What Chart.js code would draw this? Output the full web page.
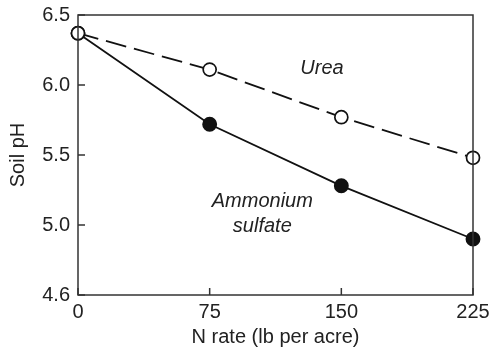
<!DOCTYPE html>
<html><head><meta charset="utf-8">
<script src="https://cdn.jsdelivr.net/npm/chart.js@4/dist/chart.umd.min.js"></script>
<style>html,body{margin:0;padding:0;background:#fff}#wrap{width:492px;height:353px}</style>
</head><body><div id="wrap"><canvas id="c" width="492" height="353"></canvas></div>
<script>
const nRates = [0, 75, 150, 225];
const urea = [6.37, 6.11, 5.77, 5.48];
const ammoniumSulfate = [6.37, 5.72, 5.28, 4.90];
const yTickValues = [4.5, 5.0, 5.5, 6.0, 6.5];
const yTickLabels = ['4.6', '5.0', '5.5', '6.0', '6.5'];
const xTickLabels = ['0', '75', '150', '225'];
const seriesLabels = [
  {text: 'Urea', x: 139, y: 6.12},
  {text: 'Ammonium', x: 105, y: 5.17},
  {text: 'sulfate', x: 105, y: 4.99}
];

const FONT = "'Liberation Sans', Arial, sans-serif";
const AXIS_COLOR = '#333';

const frame = {
  id: 'frame',
  afterDraw(chart) {
    const {ctx, chartArea: a, scales: {x, y}} = chart;
    ctx.save();
    ctx.strokeStyle = AXIS_COLOR;
    ctx.lineWidth = 1.5;
    ctx.strokeRect(a.left, a.top, a.right - a.left, a.bottom - a.top);
    ctx.beginPath();
    nRates.forEach(v => {
      const px = x.getPixelForValue(v);
      ctx.moveTo(px, a.bottom);
      ctx.lineTo(px, a.bottom - 7);
    });
    yTickValues.forEach(v => {
      const py = y.getPixelForValue(v);
      ctx.moveTo(a.left, py);
      ctx.lineTo(a.left + 7, py);
    });
    ctx.stroke();
    ctx.restore();
  },
  afterDatasetsDraw(chart) {
    const {ctx, scales: {x, y}} = chart;
    ctx.save();
    ctx.fillStyle = '#222';
    ctx.font = 'italic 20px ' + FONT;
    ctx.textAlign = 'center';
    ctx.textBaseline = 'middle';
    seriesLabels.forEach(l => ctx.fillText(l.text, x.getPixelForValue(l.x), y.getPixelForValue(l.y)));
    ctx.restore();
  }
};

function zeroPad(s) { s.paddingTop = 0; s.paddingBottom = 0; s.paddingLeft = 0; s.paddingRight = 0; }

new Chart(document.getElementById('c'), {
  type: 'scatter',
  data: {
    datasets: [
      {
        label: 'Urea',
        data: nRates.map((v, i) => ({x: v, y: urea[i]})),
        showLine: true,
        borderColor: '#111',
        borderWidth: 1.8,
        borderDash: [21, 8],
        pointRadius: 6.5,
        pointHoverRadius: 6.5,
        pointBackgroundColor: '#fff',
        pointBorderColor: '#111',
        pointBorderWidth: 1.7,
        clip: false
      },
      {
        label: 'Ammonium sulfate',
        data: nRates.map((v, i) => ({x: v, y: ammoniumSulfate[i]})),
        showLine: true,
        borderColor: '#111',
        borderWidth: 1.8,
        pointRadius: 6.7,
        pointHoverRadius: 6.7,
        pointBackgroundColor: '#111',
        pointBorderColor: '#111',
        pointBorderWidth: 1.5,
        clip: false
      }
    ]
  },
  options: {
    responsive: false,
    devicePixelRatio: 1,
    animation: false,
    layout: {padding: {top: 15, right: 19, left: 0, bottom: 0}},
    plugins: {legend: {display: false}, tooltip: {enabled: false}},
    scales: {
      x: {
        type: 'linear', min: 0, max: 225,
        afterBuildTicks: s => { s.ticks = nRates.map(v => ({value: v})); },
        afterFit: s => { s.height = 58; zeroPad(s); },
        grid: {display: false, drawTicks: false},
        border: {display: false},
        ticks: {
          color: '#222', padding: 5, maxRotation: 0, autoSkip: false,
          font: {family: FONT, size: 20},
          callback: (v, i) => xTickLabels[i]
        },
        title: {display: true, text: 'N rate (lb per acre)', color: '#222',
          font: {family: FONT, size: 20}, padding: {top: 4, bottom: 4}}
      },
      y: {
        type: 'linear', min: 4.5, max: 6.5,
        afterBuildTicks: s => { s.ticks = yTickValues.map(v => ({value: v})); },
        afterFit: s => { s.width = 78; zeroPad(s); },
        grid: {display: false, drawTicks: false},
        border: {display: false},
        ticks: {
          color: '#222', padding: 8, autoSkip: false,
          font: {family: FONT, size: 20},
          callback: (v, i) => yTickLabels[i]
        },
        title: {display: true, text: 'Soil pH', color: '#222',
          font: {family: FONT, size: 20}, padding: {top: 6, bottom: 6}}
      }
    }
  },
  plugins: [frame]
});
</script></body></html>
